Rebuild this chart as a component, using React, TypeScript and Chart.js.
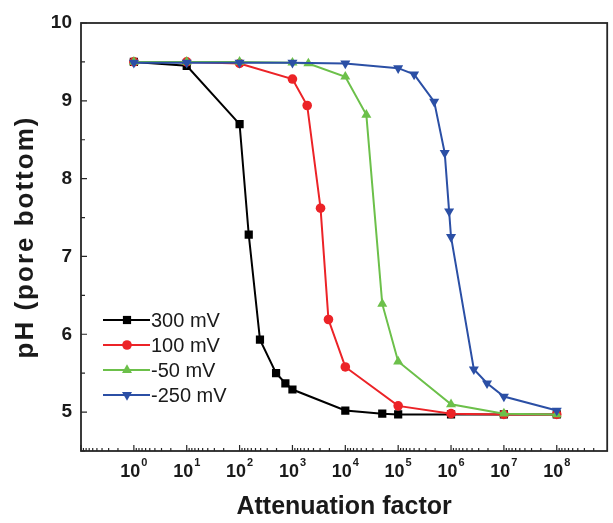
import React, { useEffect, useRef } from "react";
import { Chart, registerables } from "chart.js";

Chart.register(...registerables);

// ---- data ----
const seriesNames = ["300 mV", "100 mV", "-50 mV", "-250 mV"];

const xBlack = [1, 10, 100, 149, 243, 490, 735, 1000, 1e4, 5e4, 1e5, 1e6, 1e7, 1e8];
const yBlack = [9.5, 9.45, 8.7, 7.28, 5.93, 5.5, 5.37, 5.29, 5.02, 4.98, 4.97, 4.97, 4.97, 4.97];

const xRed = [1, 10, 100, 1000, 1900, 3400, 4800, 1e4, 1e5, 1e6, 1e7, 1e8];
const yRed = [9.5, 9.5, 9.48, 9.28, 8.94, 7.62, 6.19, 5.58, 5.08, 4.98, 4.97, 4.97];

const xGreen = [1, 10, 100, 1000, 2000, 1e4, 2.5e4, 5e4, 1e5, 1e6, 1e7, 1e8];
const yGreen = [9.5, 9.5, 9.5, 9.49, 9.48, 9.31, 8.82, 6.39, 5.65, 5.1, 4.98, 4.97];

const xBlue = [1, 10, 100, 1000, 1e4, 1e5, 2e5, 4.8e5, 7.6e5, 9.2e5, 1e6, 2.7e6, 4.8e6, 1e7, 1e8];
const yBlue = [9.49, 9.49, 9.49, 9.49, 9.48, 9.42, 9.34, 8.99, 8.33, 7.58, 7.25, 5.55, 5.37, 5.2, 5.02];

const xTickValues = [1, 10, 100, 1e3, 1e4, 1e5, 1e6, 1e7, 1e8];
const xTickBase = "10";
const xTickExponents = ["0", "1", "2", "3", "4", "5", "6", "7", "8"];
const xDecades = [-1, 0, 1, 2, 3, 4, 5, 6, 7, 8];
const yTickValues = [5, 6, 7, 8, 9, 10];
const yMinorValues = [4.5, 5.5, 6.5, 7.5, 8.5, 9.5];

const xTitle = "Attenuation factor";
const yTitle = "pH (pore bottom)";

const colors = ["#000000", "#ec2327", "#6cc04a", "#2b4fa5"];
const styles = ["rect", "circle", "triangle", "triangle"];
const rotations = [0, 0, 0, 180];
const radii = [5.8, 4.8, 5.8, 5.8];

const FONT = "'Liberation Sans', Arial, sans-serif";

function toPoints(xs: number[], ys: number[]) {
  return xs.map((x, i) => ({ x, y: ys[i] }));
}

function drawMarker(ctx: CanvasRenderingContext2D, style: string, rot: number, r: number, x: number, y: number) {
  ctx.beginPath();
  if (style === "rect") {
    const s = Math.SQRT1_2 * r;
    ctx.rect(x - s, y - s, 2 * s, 2 * s);
  } else if (style === "circle") {
    ctx.arc(x, y, r, 0, Math.PI * 2);
  } else {
    const dir = rot === 180 ? -1 : 1;
    const a = Math.PI / 2;
    for (let k = 0; k < 3; k++) {
      const ang = -a + (k * 2 * Math.PI) / 3;
      const px = x + r * Math.cos(ang);
      const py = y + dir * r * Math.sin(ang);
      if (k === 0) ctx.moveTo(px, py);
      else ctx.lineTo(px, py);
    }
    ctx.closePath();
  }
  ctx.fill();
}

const framePlugin = {
  id: "frameTicks",
  afterDatasetsDraw(chart: any) {
    const { ctx, chartArea } = chart;
    const xs = chart.scales.x;
    const ys = chart.scales.y;
    ctx.save();
    ctx.strokeStyle = "#262626";
    ctx.lineWidth = 1.8;
    ctx.strokeRect(chartArea.left, chartArea.top, chartArea.right - chartArea.left, chartArea.bottom - chartArea.top);
    ctx.lineWidth = 1.2;
    ctx.beginPath();
    // x ticks (inward)
    xDecades.forEach((n) => {
      const major = Math.pow(10, n);
      const px = xs.getPixelForValue(major);
      if (px >= chartArea.left && px <= chartArea.right) {
        ctx.moveTo(px, chartArea.bottom);
        ctx.lineTo(px, chartArea.bottom - 6);
      }
      for (let k = 2; k <= 9; k++) {
        const v = Math.pow(10, n + 1) / k;
        const p = xs.getPixelForValue(v);
        if (p > chartArea.left && p < chartArea.right) {
          ctx.moveTo(p, chartArea.bottom);
          ctx.lineTo(p, chartArea.bottom - 3);
        }
      }
    });
    // y ticks (inward)
    yTickValues.forEach((v) => {
      const py = ys.getPixelForValue(v);
      ctx.moveTo(chartArea.left, py);
      ctx.lineTo(chartArea.left + 6, py);
    });
    yMinorValues.forEach((v) => {
      const py = ys.getPixelForValue(v);
      ctx.moveTo(chartArea.left, py);
      ctx.lineTo(chartArea.left + 4, py);
    });
    ctx.stroke();

    // x tick labels with superscript exponents
    ctx.fillStyle = "#1a1a1a";
    ctx.textBaseline = "alphabetic";
    ctx.textAlign = "left";
    xTickValues.forEach((v, i) => {
      const px = xs.getPixelForValue(v);
      ctx.font = `bold 18px ${FONT}`;
      const w1 = ctx.measureText(xTickBase).width;
      ctx.font = `bold 11px ${FONT}`;
      const w2 = ctx.measureText(xTickExponents[i]).width;
      const start = px - (w1 + w2 + 1) / 2;
      ctx.font = `bold 18px ${FONT}`;
      ctx.fillText(xTickBase, start, 477);
      ctx.font = `bold 11px ${FONT}`;
      ctx.fillText(xTickExponents[i], start + w1 + 1, 466);
    });

    // titles
    ctx.fillStyle = "#1a1a1a";
    ctx.font = `bold 25px ${FONT}`;
    ctx.textAlign = "center";
    ctx.textBaseline = "middle";
    ctx.fillText(xTitle, (chartArea.left + chartArea.right) / 2, 507);
    ctx.save();
    ctx.translate(26, (chartArea.top + chartArea.bottom) / 2);
    ctx.rotate(-Math.PI / 2);
    ctx.font = `bold 26px ${FONT}`;
    (ctx as any).letterSpacing = "2px";
    ctx.fillText(yTitle, 0, 0);
    ctx.restore();

    // legend
    const rowY = [320, 345, 370, 395];
    ctx.font = `20px ${FONT}`;
    ctx.textAlign = "left";
    seriesNames.forEach((name, i) => {
      const y = rowY[i];
      ctx.strokeStyle = colors[i];
      ctx.lineWidth = 2;
      ctx.beginPath();
      ctx.moveTo(103, y);
      ctx.lineTo(150, y);
      ctx.stroke();
      ctx.fillStyle = colors[i];
      drawMarker(ctx, styles[i], rotations[i], radii[i], 127, y);
      ctx.fillStyle = "#1a1a1a";
      ctx.fillText(name, 151, y + 1);
    });
    ctx.restore();
  },
};

export default function App() {
  const ref = useRef<HTMLCanvasElement | null>(null);
  useEffect(() => {
    if (!ref.current) return;
    const series = [
      toPoints(xBlack, yBlack),
      toPoints(xRed, yRed),
      toPoints(xGreen, yGreen),
      toPoints(xBlue, yBlue),
    ];
    const chart = new Chart(ref.current, {
      type: "line",
      data: {
        datasets: series.map((d, i) => ({
          label: seriesNames[i],
          data: d,
          borderColor: colors[i],
          backgroundColor: colors[i],
          borderWidth: 2,
          pointStyle: styles[i] as any,
          rotation: rotations[i],
          pointRadius: radii[i],
          pointBorderWidth: 0,
          tension: 0,
          order: 3 - i,
        })),
      },
      options: {
        responsive: false,
        animation: false,
        events: [],
        layout: { padding: { top: 23, right: 2, left: 0, bottom: 0 } },
        plugins: { legend: { display: false }, tooltip: { enabled: false } },
        scales: {
          x: {
            type: "logarithmic",
            min: 0.1,
            max: 9e8,
            grid: { display: false, drawTicks: false },
            border: { display: false },
            afterBuildTicks: (s: any) => {
              s.ticks = xTickValues.map((v) => ({ value: v, major: true }));
            },
            afterFit: (s: any) => {
              s.height = 72;
            },
            ticks: { display: false, autoSkip: false, maxRotation: 0 },
          },
          y: {
            type: "linear",
            min: 4.5,
            max: 10,
            grid: { display: false, drawTicks: false },
            border: { display: false },
            afterBuildTicks: (s: any) => {
              s.ticks = yTickValues.map((v) => ({ value: v }));
            },
            afterFit: (s: any) => {
              s.width = 81;
            },
            ticks: {
              padding: 9,
              color: "#1a1a1a",
              font: { family: FONT, size: 19, weight: "bold" },
              callback: (v: any) => String(v),
            },
          },
        },
      },
      plugins: [framePlugin],
    });
    return () => chart.destroy();
  }, []);
  return (
    <div style={{ position: "absolute", left: 0, top: 0, width: 613, height: 523, background: "#fff" }}>
      <canvas ref={ref} width={613} height={523} />
    </div>
  );
}
